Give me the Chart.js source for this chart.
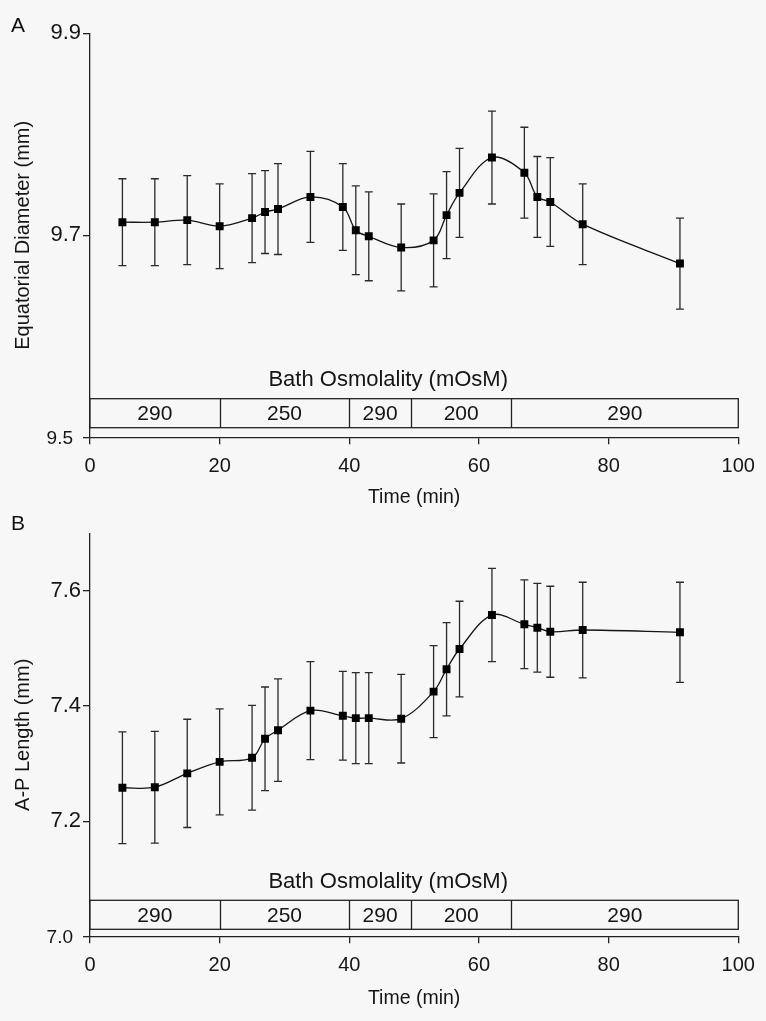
<!DOCTYPE html>
<html><head><meta charset="utf-8">
<script src="https://cdn.jsdelivr.net/npm/chart.js@4.4.1/dist/chart.umd.min.js"></script>
<style>
html,body{margin:0;padding:0;background:#f7f7f7;}
body{width:766px;height:1021px;position:relative;overflow:hidden;font-family:"Liberation Sans",Arial,sans-serif;}
canvas{position:absolute;left:0;}
#cA{top:0}
#cB{top:500px}
.pl{position:absolute;left:11px;font-size:21px;line-height:1;color:#111;}
</style></head><body>
<canvas id="cA" width="766" height="520"></canvas>
<canvas id="cB" width="766" height="521"></canvas>
<div class="pl" style="top:14px">A</div>
<div class="pl" style="top:512px">B</div>
<script>
// ---- data ----
const timeMin = [5, 10, 15, 20, 25, 27, 29, 34, 39, 41, 43, 48, 53, 55, 57, 62, 67, 69, 71, 76, 91];
const eqDiameter = [9.713, 9.713, 9.715, 9.709, 9.717, 9.723, 9.726, 9.738, 9.728, 9.705, 9.699, 9.688, 9.695, 9.720, 9.742, 9.777, 9.762, 9.738, 9.733, 9.711, 9.672];
const eqDiameterErr = [0.043, 0.043, 0.044, 0.042, 0.044, 0.041, 0.045, 0.045, 0.043, 0.044, 0.044, 0.043, 0.046, 0.043, 0.044, 0.046, 0.045, 0.040, 0.044, 0.040, 0.045];
const apLength = [7.258, 7.259, 7.283, 7.303, 7.310, 7.343, 7.358, 7.392, 7.383, 7.379, 7.379, 7.378, 7.425, 7.464, 7.499, 7.558, 7.542, 7.536, 7.529, 7.532, 7.528];
const apLengthErr = [0.097, 0.097, 0.094, 0.092, 0.091, 0.090, 0.089, 0.085, 0.077, 0.079, 0.079, 0.077, 0.080, 0.081, 0.083, 0.081, 0.077, 0.077, 0.079, 0.083, 0.087];
const osmoBounds = [0, 20, 40, 49.5, 65, 100];
const osmoLabels = ['290', '250', '290', '200', '290'];
const xTicks = [0, 20, 40, 60, 80, 100];
const yTicksA = [9.5, 9.7, 9.9];
const yTicksB = [7.0, 7.2, 7.4, 7.6];

const FONT = '"Liberation Sans", Arial, sans-serif';
const INK = '#151515';
const BG = '#f7f7f7';

const extras = {
  id: 'extras',
  beforeDatasetsDraw(chart, args, o) {
    const ctx = chart.ctx, ys = chart.scales.y;
    const meta = chart.getDatasetMeta(0);
    const data = chart.data.datasets[0].data;
    ctx.save();
    ctx.strokeStyle = '#2a2a2a';
    ctx.lineWidth = 1.3;
    meta.data.forEach((pt, i) => {
      const v = data[i].y, e = o.err[i];
      const yt = ys.getPixelForValue(v + e), yb = ys.getPixelForValue(v - e);
      ctx.beginPath();
      ctx.moveTo(pt.x, yt); ctx.lineTo(pt.x, yb);
      ctx.moveTo(pt.x - 4, yt); ctx.lineTo(pt.x + 4, yt);
      ctx.moveTo(pt.x - 4, yb); ctx.lineTo(pt.x + 4, yb);
      ctx.stroke();
    });
    ctx.restore();
  },
  afterDraw(chart, args, o) {
    const ctx = chart.ctx, xs = chart.scales.x, ys = chart.scales.y;
    const axisY = chart.chartArea.bottom;
    const top = axisY - o.boxTop, bot = axisY - o.boxBottom;
    const x0 = xs.getPixelForValue(osmoBounds[0]);
    const x1 = xs.getPixelForValue(osmoBounds[osmoBounds.length - 1]);
    ctx.save();
    ctx.fillStyle = BG;
    ctx.fillRect(x0, top, x1 - x0, bot - top);
    ctx.strokeStyle = '#222';
    ctx.lineWidth = 1.3;
    ctx.strokeRect(x0, top, x1 - x0, bot - top);
    ctx.beginPath();
    for (let i = 1; i < osmoBounds.length - 1; i++) {
      const x = Math.round(xs.getPixelForValue(osmoBounds[i])) + 0.5;
      ctx.moveTo(x, top); ctx.lineTo(x, bot);
    }
    ctx.stroke();
    ctx.fillStyle = INK;
    ctx.textAlign = 'center';
    ctx.textBaseline = 'middle';
    ctx.font = '21px ' + FONT;
    for (let i = 0; i < osmoLabels.length; i++) {
      const xm = (xs.getPixelForValue(osmoBounds[i]) + xs.getPixelForValue(osmoBounds[i + 1])) / 2;
      ctx.fillText(osmoLabels[i], xm, (top + bot) / 2 + 1);
    }
    ctx.font = '22px ' + FONT;
    ctx.fillText('Bath Osmolality (mOsM)', xs.getPixelForValue(46), axisY - o.titleOff);
    // lowest y tick label (set in a separate, smaller style in the original)
    ctx.textAlign = 'right';
    ctx.font = '19px ' + FONT;
    ctx.fillText(Number(ys.min).toFixed(1), chart.chartArea.left - 17, ys.getPixelForValue(ys.min) + 1);
    ctx.restore();
  }
};

function makeChart(id, yVals, yErr, yMin, yMax, yTickList, yTitle, cfg) {
  new Chart(document.getElementById(id), {
    type: 'line',
    data: {
      datasets: [{
        data: timeMin.map((t, i) => ({ x: t, y: yVals[i] })),
        borderColor: INK,
        borderWidth: 1.3,
        backgroundColor: '#000',
        pointBackgroundColor: '#000',
        pointBorderColor: '#000',
        pointBorderWidth: 0,
        pointStyle: 'rect',
        pointRadius: 5.6,
        tension: 0.35,
        fill: false
      }]
    },
    options: {
      responsive: false,
      animation: false,
      events: [],
      layout: { padding: { left: 0, right: 27.7, top: 33.3, bottom: cfg.padBottom } },
      plugins: {
        legend: { display: false },
        tooltip: { enabled: false },
        extras: { err: yErr, boxTop: cfg.boxTop, boxBottom: cfg.boxBottom, titleOff: cfg.titleOff }
      },
      scales: {
        x: {
          type: 'linear', min: 0, max: 100,
          afterBuildTicks: s => { s.ticks = xTicks.map(v => ({ value: v })); },
          afterFit: s => { s.height = 75; s.paddingLeft = 0; s.paddingRight = 0; },
          grid: { drawOnChartArea: false, drawTicks: true, tickLength: 7, color: '#222', lineWidth: 1.3 },
          border: { display: true, color: '#222', width: 1.3 },
          ticks: { color: INK, font: { family: FONT, size: 20 }, padding: 10, maxRotation: 0 },
          title: { display: true, text: 'Time (min)', color: INK, font: { family: FONT, size: 19.5 }, padding: { top: 0, bottom: cfg.xTitlePad } }
        },
        y: {
          type: 'linear', min: yMin, max: yMax,
          afterBuildTicks: s => { s.ticks = yTickList.map(v => ({ value: v })); },
          afterFit: s => { s.width = 90; s.paddingTop = 0; s.paddingBottom = 0; },
          grid: { drawOnChartArea: false, drawTicks: true, tickLength: 7, color: '#222', lineWidth: 1.3 },
          border: { display: true, color: '#222', width: 1.3 },
          ticks: {
            color: INK, padding: 2,
            font: { family: FONT, size: 22 },
            callback: v => (Math.abs(v - yMin) < 1e-9 ? '' : Number(v).toFixed(1))
          },
          title: { display: true, text: yTitle, color: INK, font: { family: FONT, size: 20 }, padding: { top: 11, bottom: 0 } }
        }
      }
    },
    plugins: [extras]
  });
}

makeChart('cA', eqDiameter, eqDiameterErr, 9.5, 9.9, yTicksA, 'Equatorial Diameter (mm)',
  { padBottom: 7.7, xTitlePad: 2.5, boxTop: 38.6, boxBottom: 9.6, titleOff: 57.3 });
makeChart('cB', apLength, apLengthErr, 7.0, 7.7, yTicksB, 'A-P Length (mm)',
  { padBottom: 9.7, xTitlePad: 0.5, boxTop: 36, boxBottom: 7, titleOff: 54.6 });
</script>
</body></html>
